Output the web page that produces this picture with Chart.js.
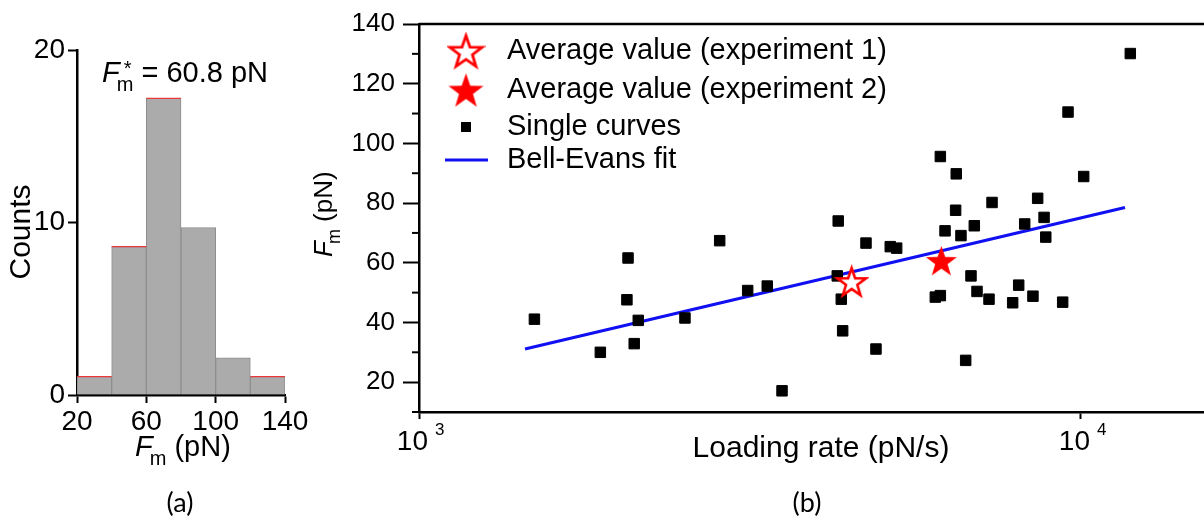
<!DOCTYPE html>
<html>
<head>
<meta charset="utf-8">
<script src="https://cdn.jsdelivr.net/npm/chart.js@4.4.0/dist/chart.umd.min.js"></script>
<style>
  html, body { margin: 0; padding: 0; background: #fff; }
  body { width: 1204px; height: 525px; position: relative; overflow: hidden; }
  #histChart { position: absolute; left: 0; top: 0; }
  #rateChart { position: absolute; left: 300px; top: 0; }
</style>
</head>
<body>
<canvas id="histChart" width="340" height="525"></canvas>
<canvas id="rateChart" width="904" height="525"></canvas>
<script>
// ---- panel (a): histogram of rupture forces
const histBinCenters = [30, 50, 70, 90, 110, 130];
const histCounts = [1.07, 8.6, 17.2, 9.7, 2.15, 1.07];
const histXTicks = [20, 60, 100, 140];
const histYTicks = [0, 10, 20];
const histMeanText = "= 60.8 pN";
// bars whose top edge is drawn in red in the original
const histRedTop = [true, true, true, false, false, true];

// ---- panel (b): force vs loading rate
const curveRate = [1494, 1879, 2069, 2061, 2144, 2114, 2522, 2846, 3137, 3358,
  3535, 4298, 4284, 4344, 4365, 4734, 4901, 5151, 5267, 6025,
  6131, 6131, 6232, 6466, 6480, 6587, 6696, 6821, 6900, 6965,
  7262, 7339, 7885, 8052, 8222, 8461, 8601, 8795, 8847, 9383,
  9559, 10095, 11871];
const curveForce = [41.1, 30.0, 61.6, 47.6, 40.7, 32.9, 41.5, 67.4, 50.7, 52.2,
  17.1, 74.0, 55.6, 47.8, 37.2, 66.6, 31.1, 65.4, 64.9, 48.5,
  49.0, 95.6, 70.7, 77.6, 89.8, 69.1, 27.3, 55.6, 72.4, 50.4,
  47.8, 80.2, 46.6, 52.5, 73.0, 48.8, 81.6, 75.2, 68.6, 46.8,
  110.5, 88.9, 130.1];
const exp1Rate = [4504];
const exp1Force = [53.7];
const exp2Rate = [6152];
const exp2Force = [60.7];
const fitRate = [1446, 11655];
const fitForce = [31.1, 78.5];
const rateTicks = [1000, 10000];
const rateTickExp = ["3", "4"];
const forceTicks = [20, 40, 60, 80, 100, 120, 140];
const forceMinorTicks = [10, 30, 50, 70, 90, 110, 130];
const legendLabels = [
  "Average value (experiment 1)",
  "Average value (experiment 2)",
  "Single curves",
  "Bell-Evans fit"
];

const FONT = '"Liberation Sans", Arial, sans-serif';
const RED = "#ff0000";
const BLUE = "#1010f2";

function makeStar(width, fill, stroke, lineW) {
  const size = Math.ceil(width + 4);
  const c = document.createElement("canvas");
  c.width = size;
  c.height = size;
  const g = c.getContext("2d");
  const R = (width - lineW) / 1.902;
  const r = R * 0.4;
  const cx = size / 2;
  const cy = size / 2 + 0.0955 * R;
  g.beginPath();
  for (let k = 0; k < 10; k++) {
    const rad = k % 2 === 0 ? R : r;
    const ang = -Math.PI / 2 + k * Math.PI / 5;
    const px = cx + rad * Math.cos(ang);
    const py = cy + rad * Math.sin(ang);
    if (k === 0) g.moveTo(px, py); else g.lineTo(px, py);
  }
  g.closePath();
  g.fillStyle = fill;
  g.fill();
  if (stroke) {
    g.lineWidth = lineW;
    g.lineJoin = "miter";
    g.strokeStyle = stroke;
    g.stroke();
  }
  return c;
}

const starOpen = makeStar(31, "#fff", RED, 2.6);
const starFull = makeStar(31, RED, null, 0);
const starOpenBig = makeStar(35, "#fff", RED, 2.8);
const starFullBig = makeStar(35, RED, null, 0);

// italic F, subscript m, optional star, then the rest
function drawFm(ctx, x, y, size, rest, withStar) {
  ctx.save();
  ctx.fillStyle = "#000";
  ctx.textAlign = "left";
  ctx.textBaseline = "alphabetic";
  ctx.font = `italic ${size}px ${FONT}`;
  ctx.fillText("F", x, y);
  const fw = ctx.measureText("F").width;
  const small = Math.round(size * 0.7);
  ctx.font = `${small}px ${FONT}`;
  const mx = x + fw - 3;
  ctx.fillText("m", mx, y + size * 0.3);
  if (withStar) ctx.fillText("*", mx + 7, y - size * 0.23);
  const mw = ctx.measureText("m").width;
  ctx.font = `${size}px ${FONT}`;
  ctx.fillText(rest, mx + mw, y);
  ctx.restore();
}

const histText = {
  id: "histText",
  afterDatasetsDraw(chart) {
    // thin red top edge on some bars
    const ctx = chart.ctx;
    const bars = chart.getDatasetMeta(0).data;
    ctx.save();
    ctx.strokeStyle = "#e83a3a";
    ctx.lineWidth = 1.2;
    bars.forEach((b, i) => {
      if (!histRedTop[i]) return;
      ctx.beginPath();
      ctx.moveTo(b.x - b.width / 2, b.y);
      ctx.lineTo(b.x + b.width / 2, b.y);
      ctx.stroke();
    });
    ctx.restore();
  },
  afterDraw(chart) {
    const ctx = chart.ctx;
    drawFm(ctx, 102, 82, 29, " " + histMeanText, true);
    drawFm(ctx, 135, 456, 29, " (pN)", false);
    ctx.save();
    ctx.fillStyle = "#000";
    ctx.font = `30px ${FONT}`;
    ctx.textAlign = "center";
    ctx.textBaseline = "middle";
    ctx.translate(22, 232);
    ctx.rotate(-Math.PI / 2);
    ctx.fillText("Counts", 0, 0);
    ctx.restore();
    ctx.save();
    ctx.fillStyle = "#000";
    ctx.font = `27px Lato, "Open Sans", sans-serif`;
    ctx.textAlign = "center";
    ctx.textBaseline = "alphabetic";
    ctx.fillText("(a)", 180, 512);
    ctx.restore();
  }
};

const rateDecor = {
  id: "rateDecor",
  afterDraw(chart) {
    const { ctx, chartArea: a } = chart;
    const xs = chart.scales.x;
    const ys = chart.scales.y;
    ctx.save();
    ctx.strokeStyle = "#000";
    ctx.lineWidth = 2.5;
    ctx.beginPath();
    ctx.moveTo(a.left, a.top);
    ctx.lineTo(a.right, a.top);
    ctx.stroke();
    ctx.lineWidth = 2;
    forceMinorTicks.forEach(v => {
      const py = ys.getPixelForValue(v);
      ctx.beginPath();
      ctx.moveTo(a.left - 7, py);
      ctx.lineTo(a.left, py);
      ctx.stroke();
    });
    ctx.fillStyle = "#000";
    ctx.textBaseline = "alphabetic";
    rateTicks.forEach((v, i) => {
      const px = xs.getPixelForValue(v);
      ctx.font = `28px ${FONT}`;
      ctx.textAlign = "right";
      ctx.fillText("10", px + 9, 450);
      ctx.font = `17px ${FONT}`;
      ctx.textAlign = "left";
      ctx.fillText(rateTickExp[i], px + 16, 435);
    });
    ctx.font = `30px ${FONT}`;
    ctx.textAlign = "center";
    ctx.fillText("Loading rate (pN/s)", 521, 457);
    ctx.font = `27px Lato, "Open Sans", sans-serif`;
    ctx.fillText("(b)", 507, 512);
    ctx.restore();

    // y title, rotated
    ctx.save();
    ctx.translate(32, 257);
    ctx.rotate(-Math.PI / 2);
    drawFm(ctx, 0, 0, 26, " (pN)", false);
    ctx.restore();

    // legend
    ctx.save();
    const mx = a.left + 47;
    const tx = a.left + 88;
    const rows = [51, 90, 127, 160];
    ctx.drawImage(starOpenBig, mx - starOpenBig.width / 2, rows[0] - starOpenBig.height / 2);
    ctx.drawImage(starFullBig, mx - starFullBig.width / 2, rows[1] - starFullBig.height / 2);
    ctx.fillStyle = "#000";
    ctx.fillRect(mx - 5, rows[2] - 5, 10, 10);
    ctx.strokeStyle = BLUE;
    ctx.lineWidth = 3;
    ctx.beginPath();
    ctx.moveTo(a.left + 26, rows[3]);
    ctx.lineTo(a.left + 69, rows[3]);
    ctx.stroke();
    ctx.fillStyle = "#000";
    ctx.font = `29px ${FONT}`;
    ctx.textAlign = "left";
    ctx.textBaseline = "middle";
    legendLabels.forEach((t, i) => ctx.fillText(t, tx, rows[i]));
    ctx.restore();
  }
};

new Chart(document.getElementById("histChart"), {
  type: "bar",
  data: {
    datasets: [{
      data: histBinCenters.map((x, i) => ({ x, y: histCounts[i] })),
      backgroundColor: "#ababab",
      borderColor: "#8e8e8e",
      borderWidth: 1,
      barPercentage: 1,
      categoryPercentage: 1
    }]
  },
  options: {
    responsive: false,
    animation: false,
    devicePixelRatio: 1,
    layout: { autoPadding: false, padding: { top: 50, right: 55, left: 0, bottom: 0 } },
    plugins: { legend: { display: false }, tooltip: { enabled: false } },
    scales: {
      x: {
        type: "linear",
        offset: false,
        min: 20,
        max: 140,
        z: 1,
        afterBuildTicks: s => { s.ticks = histXTicks.map(v => ({ value: v })); },
        afterFit: s => { s.height = 130; },
        grid: { drawOnChartArea: false, offset: false, tickLength: 8, tickColor: "#000", tickWidth: 2 },
        border: { color: "#000", width: 2.5 },
        ticks: { color: "#000", padding: 2, maxRotation: 0, font: { family: FONT, size: 28 } }
      },
      y: {
        min: 0,
        max: 20,
        z: 1,
        afterBuildTicks: s => { s.ticks = histYTicks.map(v => ({ value: v })); },
        afterFit: s => { s.width = 77; },
        grid: { drawOnChartArea: false, tickLength: 9, tickColor: "#000", tickWidth: 2 },
        border: { color: "#000", width: 2.5 },
        ticks: { color: "#000", padding: 3, font: { family: FONT, size: 28 } }
      }
    }
  },
  plugins: [histText]
});

new Chart(document.getElementById("rateChart"), {
  type: "scatter",
  data: {
    datasets: [
      {
        label: legendLabels[0],
        data: exp1Rate.map((x, i) => ({ x, y: exp1Force[i] })),
        pointStyle: starOpen,
        pointRadius: 15,
        order: 0
      },
      {
        label: legendLabels[1],
        data: exp2Rate.map((x, i) => ({ x, y: exp2Force[i] })),
        pointStyle: starFull,
        pointRadius: 15,
        order: 1
      },
      {
        label: legendLabels[2],
        data: curveRate.map((x, i) => ({ x, y: curveForce[i] })),
        pointStyle: "rect",
        pointRadius: 7.4,
        backgroundColor: "#000",
        borderColor: "#000",
        borderWidth: 1,
        order: 2
      },
      {
        label: legendLabels[3],
        type: "line",
        data: fitRate.map((x, i) => ({ x, y: fitForce[i] })),
        borderColor: BLUE,
        borderWidth: 3.2,
        pointRadius: 0,
        fill: false,
        order: 3
      }
    ]
  },
  options: {
    responsive: false,
    animation: false,
    devicePixelRatio: 1,
    layout: { autoPadding: false, padding: { top: 24, right: 0, left: 0, bottom: 0 } },
    plugins: { legend: { display: false }, tooltip: { enabled: false } },
    scales: {
      x: {
        type: "logarithmic",
        min: 1000,
        max: 15340,
        afterBuildTicks: s => { s.ticks = rateTicks.map(v => ({ value: v })); },
        afterFit: s => { s.height = 113; },
        grid: { drawOnChartArea: false, tickLength: 7, tickColor: "#000", tickWidth: 2 },
        border: { color: "#000", width: 2.5 },
        ticks: { callback: () => "", maxRotation: 0 }
      },
      y: {
        min: 10,
        max: 140,
        afterBuildTicks: s => { s.ticks = forceTicks.map(v => ({ value: v })); },
        afterFit: s => { s.width = 119; },
        grid: { drawOnChartArea: false, tickLength: 16, tickColor: "#000", tickWidth: 2 },
        border: { color: "#000", width: 2.5 },
        ticks: { color: "#000", padding: 8, font: { family: FONT, size: 26 } }
      }
    }
  },
  plugins: [rateDecor]
});
</script>
</body>
</html>
